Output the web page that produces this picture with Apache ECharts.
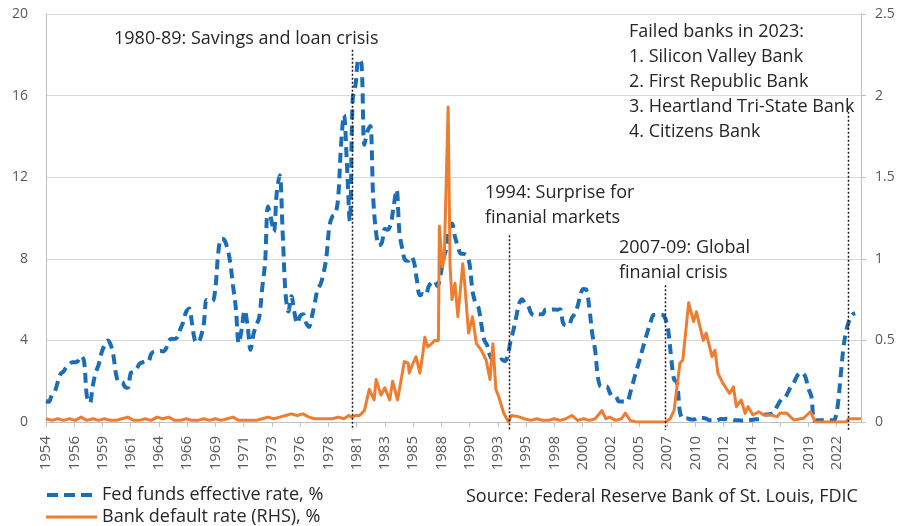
<!DOCTYPE html>
<html>
<head>
<meta charset="utf-8">
<script src="https://cdn.jsdelivr.net/npm/echarts@6/dist/echarts.min.js"></script>
<style>
  html, body { margin: 0; padding: 0; background: #fff; }
  #chart { width: 901px; height: 526px; }
</style>
</head>
<body>
<div id="chart"></div>
<script>
// Monthly category axis: July 1954 through April 2024
const axisStart = [1954, 7];
const axisEnd = [2024, 4];

// Fed funds effective rate, quarterly averages (%), from 1954 Q3
const fedFundsStart = '1954-07';
const fedFundsQuarterly = [
  1.03, 0.99,
  1.34, 1.50, 1.94, 2.36,
  2.48, 2.69, 2.81, 2.93,
  2.93, 3.00, 3.23, 3.00,
  1.26, 0.93, 1.76, 2.42,
  2.80, 3.39, 3.76, 3.99,
  3.84, 3.32, 2.33, 1.95,
  1.96, 1.73, 1.68, 2.40,
  2.46, 2.61, 2.85, 2.92,
  2.97, 2.96, 3.33, 3.45,
  3.46, 3.49, 3.46, 3.58,
  3.97, 4.08, 4.07, 4.17,
  4.56, 4.91, 5.41, 5.56,
  4.82, 3.99, 3.89, 4.17,
  4.79, 5.98, 5.94, 5.92,
  6.57, 8.33, 8.98, 8.94,
  8.57, 7.88, 6.70, 5.57,
  3.86, 4.56, 5.47, 4.75,
  3.54, 4.30, 4.74, 5.14,
  6.54, 7.82, 10.56, 10.00,
  9.32, 11.25, 12.09, 9.35,
  6.30, 5.42, 6.16, 5.41,
  4.83, 5.20, 5.28, 4.87,
  4.66, 5.16, 5.82, 6.51,
  6.76, 7.28, 8.10, 9.58,
  10.07, 10.18, 10.95, 13.58,
  15.05, 12.69, 9.84, 15.85,
  16.57, 17.78, 17.58, 13.59,
  14.23, 14.51, 11.01, 9.29,
  8.65, 8.80, 9.46, 9.43,
  9.69, 10.56, 11.39, 9.27,
  8.48, 7.92, 7.90, 8.10,
  7.83, 6.92, 6.21, 6.27,
  6.22, 6.65, 6.84, 6.92,
  6.66, 7.16, 7.98, 8.47,
  9.44, 9.73, 9.08, 8.61,
  8.25, 8.24, 8.16, 7.74,
  6.43, 5.86, 5.64, 4.82,
  4.02, 3.77, 3.26, 3.04,
  3.04, 3.00, 3.06, 2.99,
  3.21, 3.94, 4.49, 5.17,
  5.81, 6.02, 5.80, 5.72,
  5.36, 5.24, 5.31, 5.28,
  5.28, 5.52, 5.53, 5.51,
  5.52, 5.50, 5.53, 4.86,
  4.73, 4.75, 5.09, 5.31,
  5.68, 6.27, 6.52, 6.47,
  5.59, 4.33, 3.50, 2.13,
  1.73, 1.75, 1.74, 1.44,
  1.25, 1.25, 1.02, 1.00,
  1.00, 1.01, 1.43, 1.95,
  2.47, 2.94, 3.46, 3.98,
  4.46, 4.91, 5.25, 5.25,
  5.26, 5.25, 5.07, 4.50,
  3.18, 2.09, 1.94, 0.51,
  0.18, 0.18, 0.16, 0.12,
  0.13, 0.19, 0.19, 0.19,
  0.16, 0.09, 0.08, 0.07,
  0.10, 0.15, 0.14, 0.16,
  0.14, 0.12, 0.08, 0.09,
  0.07, 0.09, 0.09, 0.10,
  0.11, 0.13, 0.13, 0.16,
  0.36, 0.37, 0.39, 0.45,
  0.70, 0.95, 1.15, 1.20,
  1.45, 1.74, 1.92, 2.22,
  2.40, 2.40, 2.19, 1.64,
  1.26, 0.06, 0.09, 0.09,
  0.08, 0.07, 0.09, 0.08,
  0.12, 0.77, 2.19, 3.65,
  4.52, 4.99, 5.26, 5.33
];

// Bank default rate (%), right-hand scale
const defaultMonths = [
  '1954-07','1955-01','1955-07','1956-01','1956-07','1957-01','1957-07','1958-01','1958-07','1959-01',
  '1959-07','1960-01','1960-07','1961-01','1961-07','1962-01','1962-07','1963-01','1963-07','1964-01',
  '1964-07','1965-01','1965-07','1966-01','1966-07','1967-01','1967-07','1968-01','1968-07','1969-01',
  '1969-07','1970-01','1970-07','1971-01','1971-07','1972-01','1972-07','1973-01','1973-07','1974-01',
  '1974-07','1975-01','1975-07','1976-01','1976-07','1977-01','1977-07','1978-01','1978-07','1979-01',
  '1979-07','1980-01','1980-06','1980-09','1981-01','1981-05','1981-10','1982-03','1982-08','1982-10',
  '1983-03','1983-07','1983-12','1984-03','1984-08','1984-10','1985-03','1985-07','1985-08','1985-12',
  '1986-03','1986-07','1986-10','1986-12','1987-03','1987-07','1987-10','1988-02','1988-03','1988-06',
  '1988-08','1988-12','1989-02','1989-04','1989-07','1989-10','1990-03','1990-05','1990-09','1991-01',
  '1991-05','1991-10','1992-03','1992-07','1992-10','1993-01','1993-04','1993-09','1994-02','1994-05',
  '1994-12','1995-06','1996-01','1996-07','1997-01','1997-07','1998-01','1998-07','1999-01','1999-07',
  '2000-01','2000-07','2001-01','2001-07','2002-02','2002-06','2002-10','2003-04','2003-10','2004-02',
  '2004-07','2005-01','2005-07','2006-01','2006-07','2007-01','2007-07','2007-12','2008-04','2008-10',
  '2009-01','2009-07','2009-12','2010-03','2010-10','2011-01','2011-07','2011-10','2012-01','2012-06',
  '2013-01','2013-05','2013-08','2014-01','2014-05','2014-08','2015-01','2015-07','2015-12','2016-07',
  '2017-02','2017-05','2017-12','2018-07','2019-05','2019-12','2020-05','2021-01','2021-07','2022-01',
  '2022-07','2023-01','2023-03','2023-09','2024-04'
];
const defaultRates = [
  0.02, 0.01, 0.02, 0.01, 0.02, 0.01, 0.03, 0.01, 0.02, 0.01,
  0.02, 0.01, 0.01, 0.02, 0.03, 0.01, 0.01, 0.02, 0.01, 0.03,
  0.02, 0.03, 0.01, 0.01, 0.02, 0.01, 0.01, 0.02, 0.01, 0.02,
  0.01, 0.02, 0.03, 0.01, 0.01, 0.01, 0.01, 0.02, 0.03, 0.02,
  0.03, 0.04, 0.05, 0.04, 0.05, 0.03, 0.02, 0.02, 0.02, 0.02,
  0.03, 0.02, 0.04, 0.03, 0.04, 0.04, 0.07, 0.20, 0.135, 0.26,
  0.165, 0.21, 0.135, 0.25, 0.135, 0.20, 0.37, 0.36, 0.30, 0.36,
  0.40, 0.30, 0.42, 0.52, 0.46, 0.48, 0.50, 0.50, 1.20, 0.95,
  1.00, 1.93, 0.95, 0.75, 0.85, 0.645, 0.97, 0.85, 0.545, 0.645,
  0.48, 0.44, 0.38, 0.26, 0.48, 0.20, 0.155, 0.055, 0.0, 0.04,
  0.033, 0.02, 0.01, 0.02, 0.01, 0.01, 0.02, 0.01, 0.02, 0.04,
  0.01, 0.02, 0.01, 0.02, 0.07, 0.02, 0.03, 0.01, 0.02, 0.055,
  0.01, 0.0, 0.0, 0.0, 0.0, 0.0, 0.0, 0.02, 0.07, 0.36,
  0.38, 0.73, 0.615, 0.675, 0.50, 0.545, 0.40, 0.44, 0.30, 0.24,
  0.175, 0.215, 0.094, 0.135, 0.053, 0.094, 0.043, 0.063, 0.043, 0.043,
  0.033, 0.055, 0.053, 0.012, 0.023, 0.063, 0.0, 0.0, 0.0, 0.0,
  0.0, 0.0, 0.02, 0.02, 0.02
];

// Event markers: month of the dotted line and the height (left-axis units) where it starts
const eventMonths = ['1980-09', '1994-02', '2007-07', '2023-03'];
const eventTops = [18.25, 9.15, 6.7, 15.4];

// Annotation texts
const noteSavings = '1980-89: Savings and loan crisis';
const noteSurprise = '1994: Surprise for\nfinanial markets';
const noteGfc = '2007-09: Global\nfinanial crisis';
const noteFailed = 'Failed banks in 2023:\n1. Silicon Valley Bank\n2. First Republic Bank\n3. Heartland Tri-State Bank\n4. Citizens Bank';
const sourceNote = 'Source: Federal Reserve Bank of St. Louis, FDIC';

const FED_NAME = 'Fed funds effective rate, %';
const DEFAULT_NAME = 'Bank default rate (RHS), %';

const FONT = "'Open Sans', 'Noto Sans', sans-serif";
const BLUE = '#1b6db6';
const ORANGE = '#ed7d31';

function monthKey(y, m) { return y + '-' + (m < 10 ? '0' + m : '' + m); }

// Build the month categories
const months = [];
for (let y = axisStart[0], m = axisStart[1]; y < axisEnd[0] || (y === axisEnd[0] && m <= axisEnd[1]); ) {
  months.push(monthKey(y, m));
  m++; if (m > 12) { m = 1; y++; }
}
const startIdx = months.indexOf(fedFundsStart);
const fedPairs = fedFundsQuarterly.map((v, i) => [months[startIdx + 3 * i], v]);
const defaultPairs = defaultMonths.map((mo, i) => [mo, defaultRates[i]]);

const chart = echarts.init(document.getElementById('chart'), null, { renderer: 'canvas' });

const legendText = { fontFamily: FONT, fontSize: 18, color: '#262626' };

chart.setOption({
  animation: false,
  backgroundColor: '#ffffff',
  textStyle: { fontFamily: FONT },
  grid: { left: 46, right: 40, top: 14, bottom: 104, containLabel: false },
  legend: [
    {
      left: 47,
      top: 486,
      padding: 0,
      itemWidth: 45,
      itemHeight: 4,
      textStyle: Object.assign({ padding: [0, 0, 0, 5] }, legendText),
      data: [{ name: FED_NAME, icon: 'path://M0,0h11v4h-11z M17,0h11v4h-11z M34,0h11v4h-11z' }]
    },
    {
      left: 46,
      top: 508,
      padding: 0,
      itemWidth: 51,
      itemHeight: 3,
      textStyle: legendText,
      data: [{ name: DEFAULT_NAME, icon: 'path://M0,0h51v3h-51z' }]
    }
  ],
  xAxis: {
    type: 'category',
    data: months,
    boundaryGap: false,
    axisLine: { lineStyle: { color: '#bfbfbf', width: 1 } },
    axisTick: { show: true, interval: 28, length: 5, lineStyle: { color: '#bfbfbf' } },
    axisLabel: {
      interval: 28,
      rotate: 90,
      margin: 14,
      color: '#595959',
      fontSize: 15,
      fontFamily: FONT,
      formatter: v => v.slice(0, 4)
    },
    splitLine: { show: false }
  },
  yAxis: [
    {
      type: 'value',
      position: 'left',
      min: 0, max: 20, interval: 4,
      axisLine: { show: true, lineStyle: { color: '#bfbfbf' } },
      axisTick: { show: false },
      axisLabel: { color: '#595959', fontSize: 14, fontFamily: FONT, margin: 18 },
      splitLine: { show: true, lineStyle: { color: '#d9d9d9', width: 1 } }
    },
    {
      type: 'value',
      position: 'right',
      min: 0, max: 2.5, interval: 0.5,
      axisLine: { show: true, lineStyle: { color: '#bfbfbf' } },
      axisTick: { show: true, length: 5, lineStyle: { color: '#bfbfbf' } },
      axisLabel: { color: '#595959', fontSize: 14, fontFamily: FONT, margin: 14 },
      splitLine: { show: false }
    }
  ],
  series: [
    {
      name: FED_NAME,
      type: 'line',
      yAxisIndex: 0,
      data: fedPairs,
      symbol: 'none',
      smooth: 0.35,
      itemStyle: { color: BLUE },
      lineStyle: { color: BLUE, width: 4, type: [10, 6] },
      z: 2
    },
    {
      name: DEFAULT_NAME,
      type: 'line',
      yAxisIndex: 1,
      data: defaultPairs,
      symbol: 'none',
      itemStyle: { color: ORANGE },
      lineStyle: { color: ORANGE, width: 3, join: 'round' },
      z: 3
    }
  ]
});

// Dotted event lines, placed through the axes' own conversion
const zeroY = chart.convertToPixel({ yAxisIndex: 0 }, 0);
const eventLines = eventMonths.map((mo, i) => {
  const x = Math.round(chart.convertToPixel({ xAxisIndex: 0 }, mo)) + 0.5;
  const yTop = chart.convertToPixel({ yAxisIndex: 0 }, eventTops[i]);
  return {
    type: 'line',
    shape: { x1: x, y1: yTop, x2: x, y2: zeroY + 8 },
    style: { stroke: '#1a1a1a', lineWidth: 1.5, lineDash: [2, 2] },
    z: 10
  };
});

function note(text, x, y) {
  return {
    type: 'text',
    x: x, y: y,
    z: 11,
    style: {
      text: text,
      fill: '#262626',
      font: '18px ' + FONT,
      lineHeight: 25,
      textVerticalAlign: 'top'
    }
  };
}

chart.setOption({
  graphic: [
    ...eventLines,
    note(noteSavings, 114, 26),
    note(noteSurprise, 485, 180),
    note(noteGfc, 619, 235),
    note(noteFailed, 629, 19),
    note(sourceNote, 466, 484)
  ]
});
</script>
</body>
</html>
